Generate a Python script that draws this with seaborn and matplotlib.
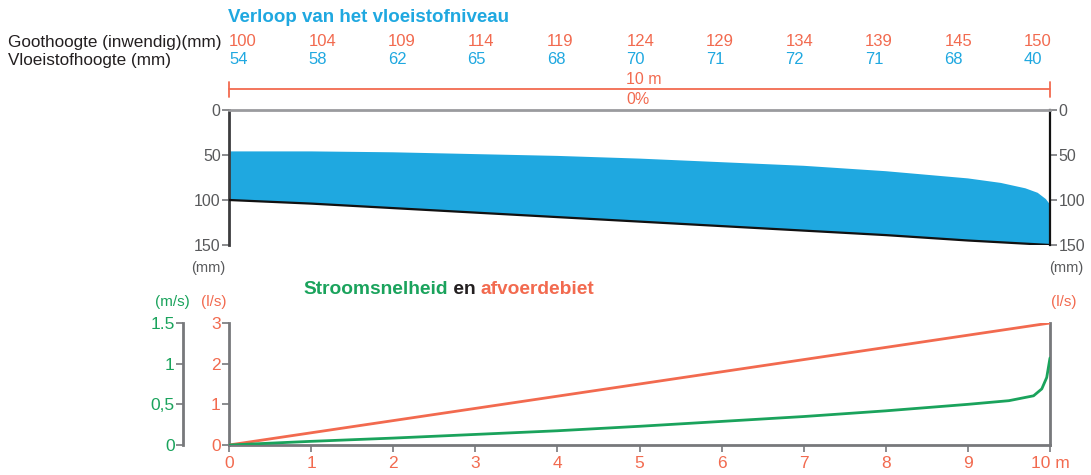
import numpy as np
import matplotlib
matplotlib.use("Agg")
import matplotlib.pyplot as plt
from matplotlib.lines import Line2D
import seaborn as sns

# ---------------- data ----------------
positions_m = [0, 1, 2, 3, 4, 5, 6, 7, 8, 9, 10]
goothoogte_mm = [100, 104, 109, 114, 119, 124, 129, 134, 139, 145, 150]
vloeistofhoogte_mm = [54, 58, 62, 65, 68, 70, 71, 72, 71, 68, 40]

# water surface (mm below top)
surface_x = [0, 1, 2, 3, 4, 5, 6, 7, 8, 9, 9.4, 9.7, 9.85, 9.95, 10]
surface_mm = [46, 46, 47, 49, 51, 54, 58, 62, 68, 76, 81, 87, 92, 99, 105]

# discharge (l/s) and flow velocity (m/s)
afvoerdebiet_ls = [0, 0.3, 0.6, 0.9, 1.2, 1.5, 1.8, 2.1, 2.4, 2.7, 3.0]
snelheid_x = [0, 1, 2, 3, 4, 5, 6, 7, 8, 9, 9.5, 9.8, 9.9, 9.96, 10]
snelheid_ms = [0, 0.045, 0.085, 0.13, 0.175, 0.23, 0.29, 0.35, 0.42, 0.5,
               0.545, 0.605, 0.69, 0.83, 1.07]

depth_ticks = [0, 50, 100, 150]
flow_ticks = [0, 1, 2, 3]
vel_ticks = [0, 0.5, 1, 1.5]
vel_ticklabels = ["0", "0,5", "1", "1.5"]
x_ticklabels = ["0", "1", "2", "3", "4", "5", "6", "7", "8", "9", "10 m"]

# ---------------- style ----------------
sns.set_style("white")
plt.rcParams["font.family"] = ["Liberation Sans", "DejaVu Sans"]

CYAN = "#1fa8e0"
RED = "#f26a4f"
GREEN = "#1aa35c"
GRAY = "#77787b"
DARK = "#3c3c3e"
TXT = "#231f20"

W, H = 1091, 475
fig = plt.figure(figsize=(W / 100, H / 100), dpi=100)


def fx(px):
    return px / W


def fy(py):
    return 1 - py / H


# ---------------- top panel ----------------
ax = fig.add_axes([fx(229), fy(245), fx(1050) - fx(229), fy(110) - fy(245)])
ax.fill(list(surface_x) + positions_m[::-1],
        list(surface_mm) + goothoogte_mm[::-1],
        color=CYAN, lw=0, zorder=1)
sns.lineplot(x=positions_m, y=goothoogte_mm, ax=ax, color="#111111", lw=1.6, zorder=3)
ax.set_xlim(0, 10)
ax.set_ylim(150, 0)
ax.set_yticks(depth_ticks)
ax.set_xticks([])
ax.tick_params(axis="y", which="both", left=True, right=True, labelleft=True,
               labelright=True, direction="out", length=5, width=1.2, color=GRAY,
               labelsize=11.5, labelcolor="#58595b", pad=1)
ax.spines["bottom"].set_visible(False)
ax.spines["top"].set_color("#9a9b9e")
ax.spines["top"].set_linewidth(2)
ax.spines["left"].set_color(DARK)
ax.spines["left"].set_linewidth(2)
ax.spines["right"].set_color("#111111")
ax.spines["right"].set_linewidth(1.6)
ax.set_xlabel("")
ax.set_ylabel("")

fig.text(fx(208), fy(268), "(mm)", ha="center", va="center", fontsize=10.5, color="#58595b")
fig.text(fx(1049), fy(268), "(mm)", ha="left", va="center", fontsize=10.5, color="#58595b")

# header table
fig.text(fx(228), fy(17), "Verloop van het vloeistofniveau", ha="left", va="center",
         fontsize=13.5, fontweight="bold", color=CYAN)
fig.text(fx(8), fy(42), "Goothoogte (inwendig)(mm)", ha="left", va="center",
         fontsize=12.3, color=TXT)
fig.text(fx(8), fy(60), "Vloeistofhoogte (mm)", ha="left", va="center",
         fontsize=12.3, color=TXT)
for i, (g, v) in enumerate(zip(goothoogte_mm, vloeistofhoogte_mm)):
    px = 229 + i * 79.5
    fig.text(fx(px), fy(42), str(g), ha="left", va="center", fontsize=12, color=RED)
    fig.text(fx(px), fy(60), str(v), ha="left", va="center", fontsize=12, color=CYAN)

# dimension line
fig.add_artist(Line2D([fx(229), fx(1050)], [fy(89), fy(89)], color=RED, lw=1.3))
for px in (229, 1050):
    fig.add_artist(Line2D([fx(px), fx(px)], [fy(82), fy(97)], color=RED, lw=1.3))
fig.text(fx(626), fy(79), "10 m", ha="left", va="center", fontsize=11.5, color=RED)
fig.text(fx(626), fy(100), "0%", ha="left", va="center", fontsize=11.5, color=RED)

# ---------------- bottom panel ----------------
bx = fig.add_axes([fx(229), fy(445), fx(1050) - fx(229), fy(323) - fy(445)])
sns.lineplot(x=positions_m, y=afvoerdebiet_ls, ax=bx, color=RED, lw=2, zorder=3)
bx.set_xlim(0, 10)
bx.set_ylim(0, 3)
bx.set_xticks(positions_m)
bx.set_xticklabels(x_ticklabels)
bx.set_yticks(flow_ticks)
bx.tick_params(axis="y", left=True, right=True, labelleft=True, labelright=True,
               direction="out", length=5, width=1.2, color=GRAY, labelsize=12.5,
               labelcolor=RED, pad=1)
bx.tick_params(axis="x", bottom=True, direction="out", length=5, width=1.2, color=GRAY,
               labelsize=12.5, labelcolor=RED, pad=3)
bx.spines["top"].set_visible(False)
for s in ["left", "right", "bottom"]:
    bx.spines[s].set_color(GRAY)
    bx.spines[s].set_linewidth(2)
bx.set_xlabel("")
bx.set_ylabel("")

gx = bx.twinx()
sns.lineplot(x=snelheid_x, y=snelheid_ms, ax=gx, color=GREEN, lw=2, zorder=3)
gx.set_ylim(0, 1.5)
gx.set_yticks(vel_ticks)
gx.set_yticklabels(vel_ticklabels)
gx.yaxis.tick_left()
gx.spines["left"].set_position(("axes", -46 / 821))
gx.spines["left"].set_visible(True)
gx.spines["left"].set_color(GRAY)
gx.spines["left"].set_linewidth(2)
for s in ["right", "top", "bottom"]:
    gx.spines[s].set_visible(False)
gx.tick_params(axis="y", direction="out", length=5, width=1.2, color=GRAY,
               labelsize=12.5, labelcolor=GREEN, pad=1)
gx.set_ylabel("")

fig.text(fx(172), fy(302), "(m/s)", ha="center", va="center", fontsize=11, color=GREEN)
fig.text(fx(214), fy(302), "(l/s)", ha="center", va="center", fontsize=11, color=RED)
fig.text(fx(1064), fy(302), "(l/s)", ha="center", va="center", fontsize=11, color=RED)

t1 = fig.text(fx(303), fy(290), "Stroomsnelheid", ha="left", va="center",
              fontsize=13.8, fontweight="bold", color=GREEN)
t2 = fig.text(0, 0, " en ", fontsize=13.8, fontweight="bold", color=TXT)
t3 = fig.text(0, 0, "afvoerdebiet", fontsize=13.8, fontweight="bold", color=RED)
fig.canvas.draw()
r = fig.canvas.get_renderer()
bb1 = t1.get_window_extent(r)
t2.set_position((bb1.x1 / W, bb1.y0 / H))
t2.set_va("bottom")
fig.canvas.draw()
bb2 = t2.get_window_extent(r)
t3.set_position((bb2.x1 / W, bb1.y0 / H))
t3.set_va("bottom")

fig.savefig("out.png", dpi=100)
